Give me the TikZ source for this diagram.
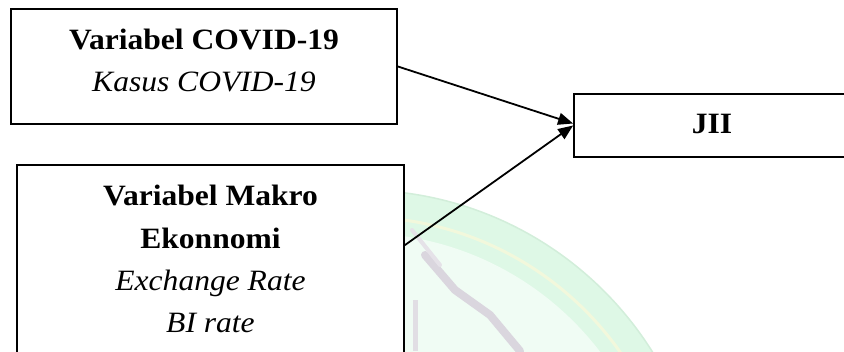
\documentclass[tikz,border=0pt]{standalone}
\usepackage{fontspec}
\setmainfont{Liberation Serif}[FakeStretch=1.07]
\usetikzlibrary{arrows.meta}
\definecolor{mint}{RGB}{222,248,230}
\definecolor{mintdark}{RGB}{210,238,218}
\definecolor{paleyel}{RGB}{242,248,220}
\definecolor{wmgrey}{RGB}{218,214,222}
\tikzset{
  box/.style={draw=black, line width=1.8pt, fill=white, rectangle, inner sep=0pt},
  lbl/.style={anchor=base, inner sep=0pt, font=\fontsize{29.5}{42}\selectfont},
  arr/.style={draw=black, line width=1.8pt, -{Triangle[length=15pt,width=12pt]}}
}
\begin{document}
\begin{tikzpicture}[x=1pt,y=-1pt]
\useasboundingbox (0,0) rectangle (844,351);
\begin{scope}
\clip (0,0) rectangle (844,351);
\fill[white] (0,0) rectangle (844,351);
% faint watermark
\fill[mint] (360,535) circle[radius=345];
\fill[mint!45] (360,535) circle[radius=302];
\draw[paleyel, line width=3pt] (360,535) circle[radius=318];
\draw[mintdark, line width=1.5pt] (360,535) circle[radius=345];
\draw[wmgrey, line width=8pt, line cap=round] (425,255) -- (455,290) -- (490,315) -- (520,351);
\draw[wmgrey!70, line width=4pt, line cap=round] (412,230) -- (440,265);
\draw[wmgrey!80, line width=5pt] (415,300) -- (415,351);
% boxes
\node[box, minimum width=386pt, minimum height=115pt] (covid) at (204,66.5) {};
\node[box, minimum width=387pt, minimum height=215pt] (makro) at (210.5,272.5) {};
\node[box, minimum width=276pt, minimum height=63pt] (jii) at (712,125.5) {};
\end{scope}
% texts
\node[lbl] (t1) at (204,49) {\bfseries Variabel COVID-19};
\node[lbl] (t2) at (204,91) {\itshape Kasus COVID-19};
\node[lbl] (t3) at (210.5,205) {\bfseries Variabel Makro};
\node[lbl] (t4) at (210.5,248) {\bfseries Ekonnomi};
\node[lbl] (t5) at (210.5,290) {\itshape Exchange Rate};
\node[lbl] (t6) at (210.5,332) {\itshape BI rate};
\node[lbl] (t7) at (712,133) {\bfseries JII};
% connectors
\draw[arr] (covid.east) -- ([yshift=2pt]jii.west);
\draw[arr] ([yshift=-81pt]makro.north east) -- (jii.west);
\end{tikzpicture}
\end{document}
